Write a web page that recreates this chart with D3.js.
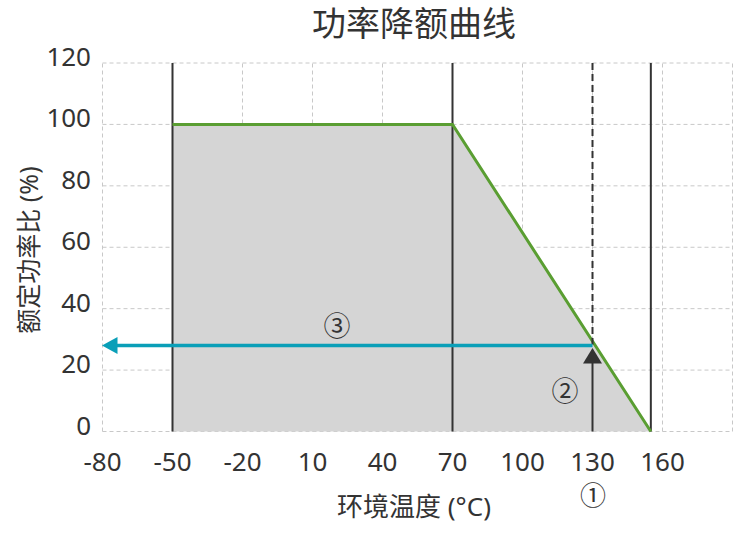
<!DOCTYPE html>
<html><head><meta charset="utf-8">
<script src="https://cdn.jsdelivr.net/npm/d3@7"></script>
<style>body{margin:0;background:#fff}text{font-family:"Noto Sans","Noto Sans CJK SC",sans-serif;fill:#333}</style>
</head><body><svg id="c" width="750" height="560"></svg>
<script>
const xTicks = [-80,-50,-20,10,40,70,100,130,160];
const xGrid = [-80,-50,-20,10,40,70,100,130,160,190];
const yTicks = [0,20,40,60,80,100,120];
const curveX = [-50,70,155];
const curveY = [100,100,0];
const verticalLines = [-50,70,155];
const operatingTemp = 130;
const operatingPower = 28;
const title = "功率降额曲线";
const xLabel = "环境温度 (°C)";
const yLabel = "额定功率比 (%)";

const svg = d3.select("#c");
const x = d3.scaleLinear().domain([-80,190]).range([102.5,732.5]);
const y = d3.scaleLinear().domain([0,120]).range([431.5,63]);

// grid
svg.append("g").selectAll("line").data(xGrid).join("line")
  .attr("x1",d=>x(d)).attr("x2",d=>x(d)).attr("y1",y(0)).attr("y2",y(120))
  .attr("stroke","#c8c8c8").attr("stroke-dasharray","4,3").attr("stroke-width",1);
svg.append("g").selectAll("line").data(yTicks).join("line")
  .attr("x1",x(-80)).attr("x2",x(190)).attr("y1",d=>y(d)).attr("y2",d=>y(d))
  .attr("stroke","#c8c8c8").attr("stroke-dasharray","4,3").attr("stroke-width",1);

// fill area
const pts = curveX.map((v,i)=>[v,curveY[i]]);
const area = d3.area().x(d=>x(d[0])).y0(y(0)).y1(d=>y(d[1]));
svg.append("path").datum(pts).attr("d",area).attr("fill","#d5d5d5");

// vertical lines
svg.append("g").selectAll("line").data(verticalLines).join("line")
  .attr("x1",d=>x(d)).attr("x2",d=>x(d)).attr("y1",y(0)).attr("y2",y(120))
  .attr("stroke","#333").attr("stroke-width",2);

// curve
const line = d3.line().x(d=>x(d[0])).y(d=>y(d[1]));
svg.append("path").datum(pts).attr("d",line).attr("fill","none")
  .attr("stroke","#5a9e32").attr("stroke-width",3);

// dashed line at operating temp
svg.append("line").attr("x1",x(operatingTemp)).attr("x2",x(operatingTemp))
  .attr("y1",y(120)).attr("y2",y(operatingPower)-1)
  .attr("stroke","#333").attr("stroke-width",2).attr("stroke-dasharray","7,4");

// teal arrow
const ty = y(operatingPower);
svg.append("line").attr("x1",x(operatingTemp)).attr("x2",x(-80)+12).attr("y1",ty).attr("y2",ty)
  .attr("stroke","#0a9fb8").attr("stroke-width",3.5);
svg.append("path").attr("d",`M${x(-80)-0.5},${ty} L${x(-80)+15},${ty-8.5} L${x(-80)+15},${ty+8.5} Z`).attr("fill","#0a9fb8");

// black arrow
const ax = x(operatingTemp);
svg.append("line").attr("x1",ax).attr("x2",ax).attr("y1",y(0)).attr("y2",ty+12)
  .attr("stroke","#333").attr("stroke-width",2);
svg.append("path").attr("d",`M${ax},${ty+2.5} L${ax+9.5},${ty+18} L${ax-9.5},${ty+18} Z`).attr("fill","#333");

// tick labels
svg.append("g").selectAll("text").data(xTicks).join("text")
  .attr("x",d=>x(d)).attr("y",471).attr("text-anchor","middle")
  .attr("font-size",26).text(d=>d);
svg.append("g").selectAll("text").data(yTicks).join("text")
  .attr("x",91).attr("y",d=>y(d)+3).attr("text-anchor","end")
  .attr("font-size",26).text(d=>d);

// titles
svg.append("text").attr("x",414).attr("y",36).attr("text-anchor","middle").attr("font-size",34).text(title);
svg.append("text").attr("x",414).attr("y",516).attr("text-anchor","middle").attr("font-size",26).text(xLabel);
svg.append("text").attr("transform","translate(38,250) rotate(-90)").attr("text-anchor","middle").attr("font-size",25).text(yLabel);

// annotations
svg.append("text").attr("x",593).attr("y",505).attr("text-anchor","middle").attr("font-size",26).text("①");
svg.append("text").attr("x",565).attr("y",401).attr("text-anchor","middle").attr("font-size",27).text("②");
svg.append("text").attr("x",337).attr("y",336).attr("text-anchor","middle").attr("font-size",27).text("③");
</script></body></html>
